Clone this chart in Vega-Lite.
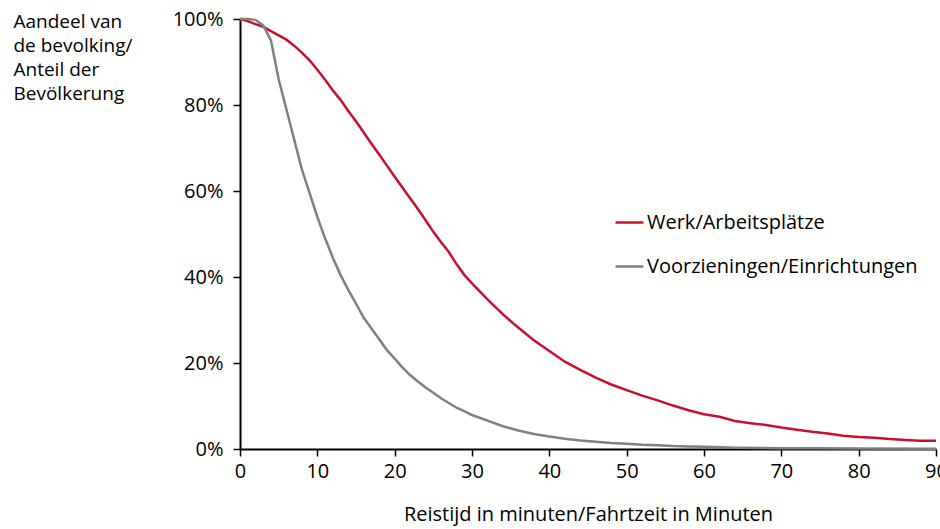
{
  "$schema": "https://vega.github.io/schema/vega-lite/v6.json",
  "width": 696,
  "height": 430,
  "autosize": {"type": "none"},
  "padding": {"left": 240, "top": 19, "right": 4, "bottom": 80},
  "background": "white",
  "config": {
    "view": {"stroke": null},
    "font": "Open Sans",
    "axis": {"grid": false, "domainColor": "black", "domainWidth": 2, "tickColor": "black", "tickWidth": 1.5, "tickSize": 7, "labelColor": "black", "titleColor": "black", "labelFont": "Open Sans", "titleFont": "Open Sans", "labelFontSize": 20, "titleFontSize": 20, "titleFontWeight": "normal"}
  },
  "datasets": {
    "curves": [
      {"t": 0, "pct": 100, "series": "Werk/Arbeitsplätze"},
      {"t": 1, "pct": 99.5, "series": "Werk/Arbeitsplätze"},
      {"t": 2, "pct": 98.8, "series": "Werk/Arbeitsplätze"},
      {"t": 3, "pct": 98.2, "series": "Werk/Arbeitsplätze"},
      {"t": 4, "pct": 97.2, "series": "Werk/Arbeitsplätze"},
      {"t": 5, "pct": 96.2, "series": "Werk/Arbeitsplätze"},
      {"t": 6, "pct": 95.2, "series": "Werk/Arbeitsplätze"},
      {"t": 7, "pct": 93.8, "series": "Werk/Arbeitsplätze"},
      {"t": 8, "pct": 92.2, "series": "Werk/Arbeitsplätze"},
      {"t": 9, "pct": 90.4, "series": "Werk/Arbeitsplätze"},
      {"t": 10, "pct": 88.2, "series": "Werk/Arbeitsplätze"},
      {"t": 11, "pct": 85.9, "series": "Werk/Arbeitsplätze"},
      {"t": 12, "pct": 83.4, "series": "Werk/Arbeitsplätze"},
      {"t": 13, "pct": 81.2, "series": "Werk/Arbeitsplätze"},
      {"t": 14, "pct": 78.6, "series": "Werk/Arbeitsplätze"},
      {"t": 15, "pct": 76.2, "series": "Werk/Arbeitsplätze"},
      {"t": 16, "pct": 73.6, "series": "Werk/Arbeitsplätze"},
      {"t": 17, "pct": 71.0, "series": "Werk/Arbeitsplätze"},
      {"t": 18, "pct": 68.5, "series": "Werk/Arbeitsplätze"},
      {"t": 19, "pct": 65.9, "series": "Werk/Arbeitsplätze"},
      {"t": 20, "pct": 63.3, "series": "Werk/Arbeitsplätze"},
      {"t": 21, "pct": 60.8, "series": "Werk/Arbeitsplätze"},
      {"t": 22, "pct": 58.3, "series": "Werk/Arbeitsplätze"},
      {"t": 23, "pct": 55.8, "series": "Werk/Arbeitsplätze"},
      {"t": 24, "pct": 53.2, "series": "Werk/Arbeitsplätze"},
      {"t": 25, "pct": 50.5, "series": "Werk/Arbeitsplätze"},
      {"t": 26, "pct": 48.1, "series": "Werk/Arbeitsplätze"},
      {"t": 27, "pct": 45.8, "series": "Werk/Arbeitsplätze"},
      {"t": 28, "pct": 43.0, "series": "Werk/Arbeitsplätze"},
      {"t": 29, "pct": 40.5, "series": "Werk/Arbeitsplätze"},
      {"t": 30, "pct": 38.5, "series": "Werk/Arbeitsplätze"},
      {"t": 32, "pct": 34.8, "series": "Werk/Arbeitsplätze"},
      {"t": 34, "pct": 31.3, "series": "Werk/Arbeitsplätze"},
      {"t": 36, "pct": 28.2, "series": "Werk/Arbeitsplätze"},
      {"t": 38, "pct": 25.3, "series": "Werk/Arbeitsplätze"},
      {"t": 40, "pct": 22.8, "series": "Werk/Arbeitsplätze"},
      {"t": 42, "pct": 20.3, "series": "Werk/Arbeitsplätze"},
      {"t": 44, "pct": 18.4, "series": "Werk/Arbeitsplätze"},
      {"t": 46, "pct": 16.6, "series": "Werk/Arbeitsplätze"},
      {"t": 48, "pct": 15.0, "series": "Werk/Arbeitsplätze"},
      {"t": 50, "pct": 13.7, "series": "Werk/Arbeitsplätze"},
      {"t": 52, "pct": 12.4, "series": "Werk/Arbeitsplätze"},
      {"t": 54, "pct": 11.3, "series": "Werk/Arbeitsplätze"},
      {"t": 56, "pct": 10.1, "series": "Werk/Arbeitsplätze"},
      {"t": 58, "pct": 9.0, "series": "Werk/Arbeitsplätze"},
      {"t": 60, "pct": 8.1, "series": "Werk/Arbeitsplätze"},
      {"t": 62, "pct": 7.5, "series": "Werk/Arbeitsplätze"},
      {"t": 64, "pct": 6.5, "series": "Werk/Arbeitsplätze"},
      {"t": 66, "pct": 6.0, "series": "Werk/Arbeitsplätze"},
      {"t": 68, "pct": 5.6, "series": "Werk/Arbeitsplätze"},
      {"t": 70, "pct": 5.0, "series": "Werk/Arbeitsplätze"},
      {"t": 72, "pct": 4.5, "series": "Werk/Arbeitsplätze"},
      {"t": 74, "pct": 4.0, "series": "Werk/Arbeitsplätze"},
      {"t": 76, "pct": 3.6, "series": "Werk/Arbeitsplätze"},
      {"t": 78, "pct": 3.1, "series": "Werk/Arbeitsplätze"},
      {"t": 80, "pct": 2.8, "series": "Werk/Arbeitsplätze"},
      {"t": 82, "pct": 2.6, "series": "Werk/Arbeitsplätze"},
      {"t": 84, "pct": 2.3, "series": "Werk/Arbeitsplätze"},
      {"t": 86, "pct": 2.1, "series": "Werk/Arbeitsplätze"},
      {"t": 88, "pct": 1.9, "series": "Werk/Arbeitsplätze"},
      {"t": 90, "pct": 1.9, "series": "Werk/Arbeitsplätze"},
      {"t": 0, "pct": 100, "series": "Voorzieningen/Einrichtungen"},
      {"t": 1, "pct": 100, "series": "Voorzieningen/Einrichtungen"},
      {"t": 2, "pct": 99.8, "series": "Voorzieningen/Einrichtungen"},
      {"t": 3, "pct": 98.5, "series": "Voorzieningen/Einrichtungen"},
      {"t": 4, "pct": 95, "series": "Voorzieningen/Einrichtungen"},
      {"t": 5, "pct": 86, "series": "Voorzieningen/Einrichtungen"},
      {"t": 6, "pct": 79, "series": "Voorzieningen/Einrichtungen"},
      {"t": 7, "pct": 72, "series": "Voorzieningen/Einrichtungen"},
      {"t": 8, "pct": 65, "series": "Voorzieningen/Einrichtungen"},
      {"t": 9, "pct": 59.5, "series": "Voorzieningen/Einrichtungen"},
      {"t": 10, "pct": 54, "series": "Voorzieningen/Einrichtungen"},
      {"t": 11, "pct": 49, "series": "Voorzieningen/Einrichtungen"},
      {"t": 12, "pct": 44.5, "series": "Voorzieningen/Einrichtungen"},
      {"t": 13, "pct": 40.5, "series": "Voorzieningen/Einrichtungen"},
      {"t": 14, "pct": 37, "series": "Voorzieningen/Einrichtungen"},
      {"t": 15, "pct": 33.8, "series": "Voorzieningen/Einrichtungen"},
      {"t": 16, "pct": 30.5, "series": "Voorzieningen/Einrichtungen"},
      {"t": 17, "pct": 28, "series": "Voorzieningen/Einrichtungen"},
      {"t": 18, "pct": 25.5, "series": "Voorzieningen/Einrichtungen"},
      {"t": 19, "pct": 23, "series": "Voorzieningen/Einrichtungen"},
      {"t": 20, "pct": 21, "series": "Voorzieningen/Einrichtungen"},
      {"t": 21, "pct": 19, "series": "Voorzieningen/Einrichtungen"},
      {"t": 22, "pct": 17.2, "series": "Voorzieningen/Einrichtungen"},
      {"t": 23, "pct": 15.7, "series": "Voorzieningen/Einrichtungen"},
      {"t": 24, "pct": 14.3, "series": "Voorzieningen/Einrichtungen"},
      {"t": 25, "pct": 13.1, "series": "Voorzieningen/Einrichtungen"},
      {"t": 26, "pct": 11.8, "series": "Voorzieningen/Einrichtungen"},
      {"t": 27, "pct": 10.7, "series": "Voorzieningen/Einrichtungen"},
      {"t": 28, "pct": 9.6, "series": "Voorzieningen/Einrichtungen"},
      {"t": 29, "pct": 8.8, "series": "Voorzieningen/Einrichtungen"},
      {"t": 30, "pct": 7.9, "series": "Voorzieningen/Einrichtungen"},
      {"t": 32, "pct": 6.6, "series": "Voorzieningen/Einrichtungen"},
      {"t": 34, "pct": 5.3, "series": "Voorzieningen/Einrichtungen"},
      {"t": 36, "pct": 4.3, "series": "Voorzieningen/Einrichtungen"},
      {"t": 38, "pct": 3.5, "series": "Voorzieningen/Einrichtungen"},
      {"t": 40, "pct": 2.9, "series": "Voorzieningen/Einrichtungen"},
      {"t": 42, "pct": 2.4, "series": "Voorzieningen/Einrichtungen"},
      {"t": 44, "pct": 2.0, "series": "Voorzieningen/Einrichtungen"},
      {"t": 46, "pct": 1.7, "series": "Voorzieningen/Einrichtungen"},
      {"t": 48, "pct": 1.4, "series": "Voorzieningen/Einrichtungen"},
      {"t": 50, "pct": 1.2, "series": "Voorzieningen/Einrichtungen"},
      {"t": 52, "pct": 1.0, "series": "Voorzieningen/Einrichtungen"},
      {"t": 54, "pct": 0.9, "series": "Voorzieningen/Einrichtungen"},
      {"t": 56, "pct": 0.7, "series": "Voorzieningen/Einrichtungen"},
      {"t": 58, "pct": 0.6, "series": "Voorzieningen/Einrichtungen"},
      {"t": 60, "pct": 0.5, "series": "Voorzieningen/Einrichtungen"},
      {"t": 62, "pct": 0.4, "series": "Voorzieningen/Einrichtungen"},
      {"t": 64, "pct": 0.3, "series": "Voorzieningen/Einrichtungen"},
      {"t": 70, "pct": 0.2, "series": "Voorzieningen/Einrichtungen"},
      {"t": 75, "pct": 0.15, "series": "Voorzieningen/Einrichtungen"},
      {"t": 80, "pct": 0.1, "series": "Voorzieningen/Einrichtungen"},
      {"t": 90, "pct": 0.05, "series": "Voorzieningen/Einrichtungen"}
    ]
  },
  "data": {"name": "curves"},
  "mark": {"type": "line", "strokeWidth": 2.5, "clip": false},
  "encoding": {
    "x": {
      "field": "t", "type": "quantitative",
      "scale": {"domain": [0, 90], "nice": false},
      "axis": {"values": [0, 10, 20, 30, 40, 50, 60, 70, 80, 90], "labelPadding": 5, "title": "Reistijd in minuten/Fahrtzeit in Minuten", "titlePadding": 23, "labelFlush": false}
    },
    "y": {
      "field": "pct", "type": "quantitative",
      "scale": {"domain": [0, 100], "nice": false},
      "axis": {
        "values": [0, 20, 40, 60, 80, 100],
        "labelExpr": "datum.value + '%'",
        "labelPadding": 10,
        "title": ["Aandeel van", "de bevolking/", "Anteil der", "Bevölkerung"],
        "titleFontSize": 19,
        "titleAngle": 0, "titleAlign": "left", "titleBaseline": "alphabetic",
        "titleX": -227, "titleY": 8, "titleLineHeight": 24
      }
    },
    "color": {
      "field": "series", "type": "nominal",
      "scale": {"domain": ["Werk/Arbeitsplätze", "Voorzieningen/Einrichtungen"], "range": ["#c8102e", "#808080"]},
      "legend": {
        "title": null, "orient": "none", "legendX": 374, "legendY": 188,
        "symbolType": "stroke", "symbolSize": 784, "symbolStrokeWidth": 2.5,
        "labelFontSize": 20, "labelFont": "Open Sans", "labelColor": "black", "labelLimit": 400,
        "labelOffset": 2, "rowPadding": 18
      }
    }
  }
}
